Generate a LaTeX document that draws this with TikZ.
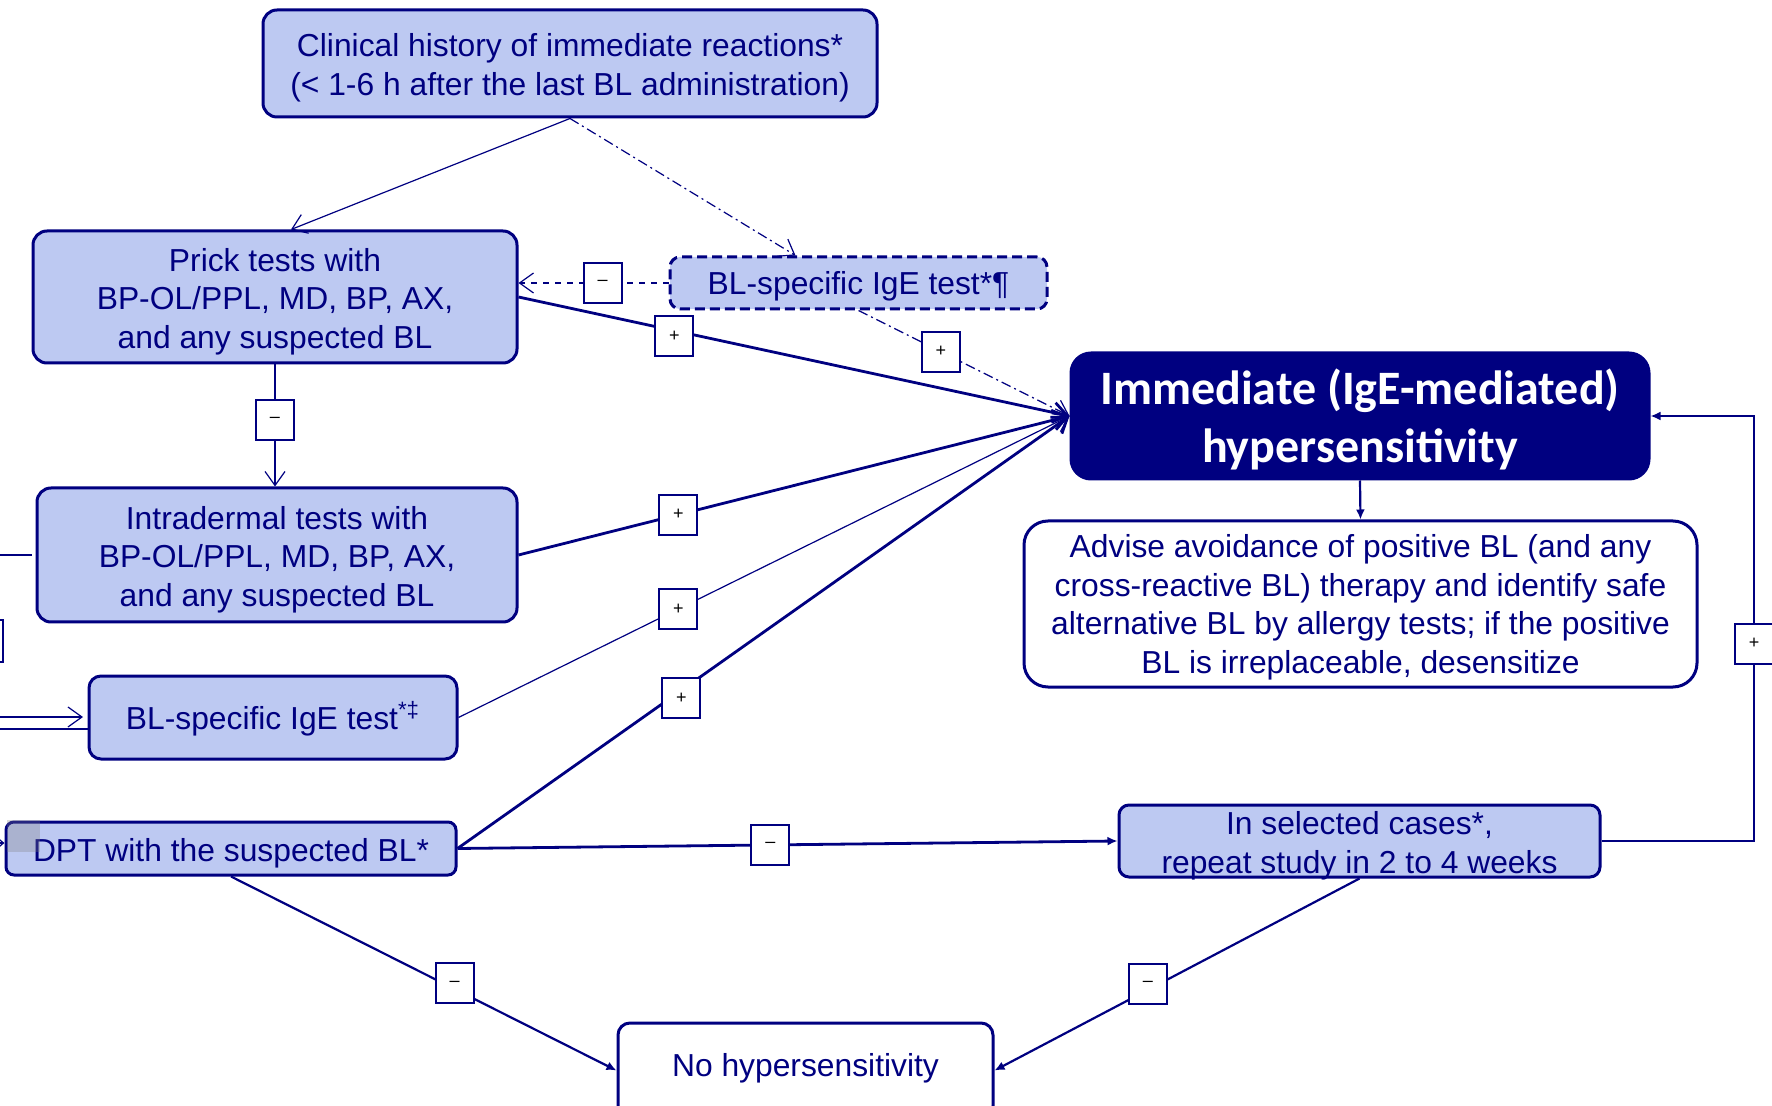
\documentclass[tikz,border=0pt]{standalone}
\usepackage{fontspec}
\setmainfont{Liberation Sans}
\newfontfamily\calib{Carlito}
\usetikzlibrary{arrows.meta,calc}
\definecolor{navyb}{RGB}{0,0,128}
\definecolor{lblue}{RGB}{189,201,242}
\begin{document}
\begin{tikzpicture}[x=0.5pt,y=-0.5pt,
  box/.style={draw=navyb, line width=1.5pt, fill=lblue, rounded corners=7pt, inner sep=0pt},
  wbox/.style={box, fill=white},
  btext/.style={text=navyb, align=center, inner sep=0pt, font=\fontsize{15.9}{19.3}\selectfont},
  sgn/.style={solid, draw=navyb, line width=1pt, fill=white, minimum width=19pt, minimum height=20pt, inner sep=0pt, font=\fontsize{9}{10}\selectfont, text=black},
  cthick/.style={draw=navyb, line width=1.4pt},
  cmid/.style={draw=navyb, line width=1.1pt},
  cthin/.style={draw=navyb, line width=0.6pt},
  dashdotline/.style={dash pattern=on 5pt off 2pt on 1pt off 2pt},
  obarb/.style={-{Straight Barb[length=7pt,width=10pt]}},
  ftip/.style={-{Latex[length=5pt,width=4.5pt]}},
]
\useasboundingbox (0,0) rectangle (1772,1106);
\clip (0,0) rectangle (1772,1106);

% boxes
\node[box, minimum width=307pt, minimum height=53.5pt] (clin) at (570,63.5) {};
\node[btext] (clinT) at ($(clin)+(0,4.5)$)
  {Clinical history of immediate reactions*\\(< 1-6 h after the last BL administration)};
\node[box, minimum width=242pt, minimum height=66pt] (prick) at (275,297) {};
\node[btext] (prickT) at ($(prick)+(0,4.5)$)
  {Prick tests with\\BP-OL/PPL, MD, BP, AX,\\and any suspected BL};
\node[box, minimum width=188.5pt, minimum height=26pt, rounded corners=5pt, dash pattern=on 5pt off 2.5pt] (igeD) at (858.5,283) {};
\node[btext] (igeDT) at ($(igeD)+(0,3.4)$) {BL-specific IgE test*¶};
\node[box, minimum width=240pt, minimum height=67pt] (intra) at (277,555) {};
\node[btext] (intraT) at ($(intra)+(0,4.5)$)
  {Intradermal tests with\\BP-OL/PPL, MD, BP, AX,\\and any suspected BL};
\node[box, minimum width=184pt, minimum height=41.5pt, rounded corners=6pt] (igeB) at (273,717.5) {};
\node[btext] (igeBT) at ($(igeB)+(0,1.1)$) {BL-specific IgE test\textsuperscript{*‡}};
\node[box, minimum width=225pt, minimum height=26.5pt, rounded corners=4pt] (dpt) at (231,848.5) {};
\node[btext] (dptT) at ($(dpt)+(0,4.5)$) {DPT with the suspected BL*};
\node[box, fill=navyb, minimum width=289pt, minimum height=63pt, rounded corners=10pt] (imm) at (1360,416) {};
\node[btext, text=white, font=\calib\bfseries\fontsize{24}{29}\selectfont] (immT) at ($(imm)+(0,3.4)$)
  {Immediate (IgE-mediated)\\hypersensitivity};
\node[wbox, minimum width=336.5pt, minimum height=83pt, rounded corners=12pt] (adv) at (1360.5,604) {};
\node[btext] (advT) at ($(adv)+(0,3.4)$)
  {Advise avoidance of positive BL (and any\\cross-reactive BL) therapy and identify safe\\alternative BL by allergy tests; if the positive\\BL is irreplaceable, desensitize};
\node[box, minimum width=240.5pt, minimum height=36pt, rounded corners=5pt] (sel) at (1359.5,841) {};
\node[btext] (selT) at ($(sel)+(0,4.5)$)
  {In selected cases*,\\repeat study in 2 to 4 weeks};
\node[wbox, minimum width=187.5pt, minimum height=47.5pt, rounded corners=6pt] (nohyp) at (805.5,1070.5) {};
\node[btext] (nohypT) at ($(nohyp)+(0,-2.3)$) {No hypersensitivity};

% connectors
\draw[cthin, obarb] (clin.south) -- ($(prick.north)+(16,0)$);
\draw[cthin, dashdotline, obarb] (clin.south) -- ($(igeD.north)+(-63,0)$);
\draw[cthin, dashed, obarb] (igeD.west) -- node[sgn, pos=0.44] (m1) {–} (prick.east |- igeD.west);
\draw[cthick, obarb] (prick.east) -- node[sgn, pos=0.283, yshift=-2.8pt] (p1) {+} (imm.west);
\draw[cthin, dashdotline, obarb] (igeD.south) -- node[sgn, pos=0.39] (p2) {+} (imm.west);
\draw[cthin, obarb] (prick.south) -- node[sgn, pos=0.456] (m2) {–} (prick.south |- intra.north);
\draw[cthick, obarb] (intra.east) -- node[sgn, pos=0.29] (p3) {+} (imm.west);
\draw[cthin, obarb] (igeB.east) -- node[sgn, pos=0.36] (p4) {+} (imm.west);
\draw[cthick, obarb] (dpt.east) -- node[sgn, pos=0.366, yshift=-3.9pt] (p5) {+} (imm.west);
\draw[cthick, ftip] (dpt.east) -- node[sgn, pos=0.474] (m3) {–} (sel.west);
\draw[cmid, ftip] (dpt.south) -- node[sgn, pos=0.58, yshift=2.8pt] (m4) {–} (nohyp.west);
\draw[cmid, ftip] (sel.south) -- node[sgn, pos=0.58, yshift=3pt] (m5) {–} (nohyp.east);
\coordinate (rc) at (1754,416);
\draw[cmid, ftip] (sel.east) -| node[sgn, pos=0.732] (p6) {+} (rc) -- (imm.east);
\draw[cmid, ftip] (imm.south) -- (adv.north);

% fragments at the left edge
\coordinate (f1) at (0,555);
\coordinate (f2) at (32,555);
\draw[cthin] (f1) -- (f2);
\draw[navyb, line width=1pt] (-30,620) rectangle (3,662);
\coordinate (f3) at (0,717);
\coordinate (f4) at (83,717);
\coordinate (f5) at (0,729);
\draw[cthin, obarb] (f3) -- (f4);
\draw[cthin] (f5) -- (igeB.west |- f5);
\coordinate (f6) at (-6,843);
\draw[cthin, -{Straight Barb[length=3pt,width=5pt]}] (f6) -- (dpt.west |- f6);
\fill[gray, opacity=0.3] (7,820) rectangle (40,852);
\end{tikzpicture}
\end{document}
